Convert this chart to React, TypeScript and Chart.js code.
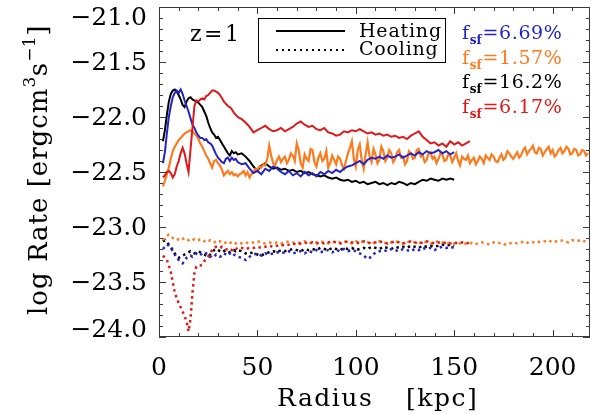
import React, { useEffect, useRef } from "react";
import { Chart, registerables } from "chart.js";

Chart.register(...registerables);

// ---------- data ----------
const radius = [
  2, 3, 4, 5, 6, 7, 8, 9, 10, 11, 12, 13, 14, 15, 16, 17, 18, 19, 20, 21,
  22, 23, 24, 25, 26, 27, 28, 29, 30, 31, 32, 33, 34, 35, 36, 37, 38, 39, 40,
  42, 44, 46, 48, 50, 52, 54, 56, 58, 60, 62, 64, 66, 68, 70, 72, 74, 76, 78, 80,
  82, 84, 86, 88, 90, 92, 94, 96, 98, 100, 102, 104, 106, 108, 110, 112, 114, 116, 118, 120,
  122, 124, 126, 128, 130, 132, 134, 136, 138, 140, 142, 144, 146, 148, 150, 152, 154, 156, 158,
];

const orangeRadius = [
  2, 3, 4, 5, 6, 7, 8, 9, 10, 11, 12, 13, 14, 15, 16, 17, 18, 19, 20, 21,
  22, 23, 24, 25, 26, 27, 28, 29, 30, 31, 32, 33, 34, 35, 36, 37, 38, 39, 40,
  41, 42, 43, 44, 45, 46, 47, 48, 49, 50, 51, 52, 53, 54, 55, 56, 57, 58, 59, 60,
  61, 62, 63, 64, 65, 66, 67, 68, 69, 70, 71, 72, 73, 74, 75, 76, 77, 78, 79, 80,
  81, 82, 83, 84, 85, 86, 87, 88, 89, 90, 91, 92, 93, 94, 95, 96, 97, 98, 99, 100,
  101, 102, 103, 104, 105, 106, 107, 108, 109, 110, 111, 112, 113, 114, 115, 116, 117, 118, 119, 120,
  121, 122, 123, 124, 125, 126, 127, 128, 129, 130, 131, 132, 133, 134, 135, 136, 137, 138, 139, 140,
  141, 142, 143, 144, 145, 146, 147, 148, 149, 150, 151, 152, 153, 154, 155, 156, 157, 158, 159, 160,
  161, 162, 163, 164, 165, 166, 167, 168, 169, 170, 171, 172, 173, 174, 175, 176, 177, 178, 179, 180,
  181, 182, 183, 184, 185, 186, 187, 188, 189, 190, 191, 192, 193, 194, 195, 196, 197, 198, 199, 200,
  201, 202, 203, 204, 205, 206, 207, 208, 209, 210, 211, 212, 213, 214, 215, 216, 217, 218,
];

const orangeCoolRadius = [
  2, 3, 4, 5, 6, 7, 8, 9, 10, 11, 12, 13, 14, 15, 16, 17, 18, 19, 20, 21,
  22, 23, 24, 25, 26, 27, 28, 29, 30, 31, 32, 33, 34, 35, 36, 37, 38, 39, 40,
  42, 44, 46, 48, 50, 52, 54, 56, 58, 60, 62, 64, 66, 68, 70, 72, 74, 76, 78, 80,
  82, 84, 86, 88, 90, 92, 94, 96, 98, 100, 102, 104, 106, 108, 110, 112, 114, 116, 118, 120,
  122, 124, 126, 128, 130, 132, 134, 136, 138, 140, 142, 144, 146, 148, 150, 152, 154, 156, 158, 160,
  162, 164, 166, 168, 170, 172, 174, 176, 178, 180, 182, 184, 186, 188, 190, 192, 194, 196, 198, 200,
  202, 204, 206, 208, 210, 212, 214, 216, 218,
];

const blueHeating = [
  -22.42, -22.32, -22.15, -22.0, -21.9, -21.82, -21.78, -21.76, -21.78, -21.75,
  -21.79, -21.85, -21.9, -21.95, -22.01, -22.07, -22.1, -22.14, -22.17, -22.19,
  -22.19, -22.21, -22.2, -22.23, -22.24, -22.26, -22.3, -22.34, -22.37, -22.39,
  -22.41, -22.42, -22.38, -22.37, -22.4, -22.37, -22.39, -22.38, -22.41,
  -22.43, -22.42, -22.47, -22.51, -22.49, -22.52, -22.47, -22.49, -22.45, -22.47,
  -22.5, -22.52, -22.49, -22.53, -22.51, -22.54, -22.5, -22.53, -22.51, -22.54,
  -22.5, -22.52, -22.49, -22.51, -22.48, -22.5, -22.47, -22.45, -22.44, -22.42,
  -22.4, -22.43, -22.39, -22.37, -22.38, -22.36, -22.38, -22.35, -22.37, -22.36,
  -22.34, -22.37, -22.35, -22.33, -22.35, -22.32, -22.34, -22.31, -22.33, -22.32,
  -22.3, -22.33, -22.31, -22.34, -22.32,
];

const blackHeating = [
  -22.22, -22.12, -21.98, -21.86, -21.79, -21.76, -21.75, -21.77, -21.8, -21.84,
  -21.89, -21.91, -21.86, -21.83, -21.82, -21.84, -21.85, -21.86, -21.87, -21.89,
  -21.91, -21.95, -21.99, -22.05, -22.1, -22.14, -22.16, -22.19, -22.18, -22.21,
  -22.24, -22.27, -22.3, -22.33, -22.35, -22.31, -22.33, -22.32, -22.34,
  -22.33, -22.36, -22.4, -22.45, -22.49, -22.44, -22.42, -22.45, -22.47, -22.46,
  -22.48, -22.47, -22.49, -22.48, -22.5, -22.49, -22.51, -22.5, -22.52, -22.53,
  -22.54, -22.53, -22.55, -22.56, -22.55, -22.57, -22.58, -22.57, -22.59, -22.58,
  -22.6, -22.59, -22.61, -22.6, -22.59, -22.61, -22.6, -22.62, -22.6, -22.61,
  -22.59, -22.6, -22.62, -22.6, -22.61, -22.59, -22.57, -22.58, -22.56, -22.57,
  -22.58, -22.56, -22.57, -22.56, -22.57,
];

const redHeating = [
  -22.55, -22.53, -22.5, -22.49, -22.51, -22.55, -22.52, -22.45, -22.4, -22.33,
  -22.28, -22.33, -22.42, -22.5, -22.3, -22.1, -21.9, -21.85, -21.86, -21.84,
  -21.83, -21.84, -21.81, -21.8, -21.78, -21.76, -21.76, -21.77, -21.78, -21.8,
  -21.83, -21.86, -21.88, -21.9, -21.91, -21.93, -21.96, -21.98, -22.0,
  -22.02, -22.05, -22.09, -22.14, -22.12, -22.1, -22.08, -22.11, -22.13, -22.12,
  -22.1, -22.13, -22.11, -22.09, -22.06, -22.04, -22.07, -22.09, -22.08, -22.11,
  -22.12, -22.1, -22.14, -22.15, -22.17, -22.16, -22.13, -22.14, -22.12, -22.13,
  -22.11, -22.13, -22.15, -22.14, -22.16, -22.15, -22.17, -22.16, -22.18, -22.17,
  -22.19, -22.18, -22.2, -22.17, -22.15, -22.13, -22.18, -22.21, -22.24, -22.23,
  -22.26, -22.24, -22.27, -22.22, -22.25, -22.23, -22.26, -22.24, -22.22,
];

const orangeHeating = [
  -22.63, -22.58, -22.52, -22.46, -22.38, -22.31, -22.27, -22.24, -22.21, -22.19,
  -22.17, -22.15, -22.14, -22.13, -22.12, -22.13, -22.15, -22.17, -22.2, -22.24,
  -22.27, -22.31, -22.35, -22.38, -22.42, -22.46, -22.4, -22.39, -22.42, -22.44,
  -22.48, -22.53, -22.51, -22.49, -22.52, -22.5, -22.53, -22.52, -22.54,
  -22.52, -22.51, -22.49, -22.53, -22.5, -22.55, -22.52, -22.5, -22.47, -22.48,
  -22.45, -22.46, -22.43, -22.44, -22.38, -22.26, -22.35, -22.42, -22.44, -22.39,
  -22.36, -22.41, -22.38, -22.36, -22.42, -22.39, -22.33, -22.35, -22.4, -22.24,
  -22.3, -22.42, -22.46, -22.34, -22.38, -22.4, -22.29, -22.3, -22.41, -22.45,
  -22.37, -22.33, -22.4, -22.38, -22.31, -22.46, -22.42, -22.35, -22.39, -22.43,
  -22.36, -22.38, -22.44, -22.47, -22.4, -22.33, -22.28, -22.22, -22.38, -22.45,
  -22.3, -22.25, -22.39, -22.47, -22.34, -22.23, -22.36, -22.41, -22.29, -22.34,
  -22.42, -22.39, -22.27, -22.31, -22.4, -22.37, -22.3, -22.33, -22.41, -22.38,
  -22.32, -22.3, -22.37, -22.36, -22.43, -22.4, -22.31, -22.33, -22.38, -22.37,
  -22.3, -22.29, -22.36, -22.35, -22.41, -22.39, -22.33, -22.32, -22.38, -22.36,
  -22.42, -22.38, -22.33, -22.34, -22.4, -22.39, -22.34, -22.35, -22.41, -22.37,
  -22.33, -22.4, -22.44, -22.36, -22.38, -22.39, -22.35, -22.42, -22.39, -22.37,
  -22.43, -22.4, -22.36, -22.38, -22.42, -22.35, -22.37, -22.39, -22.34, -22.36,
  -22.4, -22.41, -22.37, -22.34, -22.39, -22.37, -22.31, -22.33, -22.36, -22.38,
  -22.35, -22.32, -22.37, -22.35, -22.3, -22.28, -22.34, -22.31, -22.29, -22.26,
  -22.32, -22.33, -22.28, -22.29, -22.35, -22.32, -22.29, -22.27, -22.33, -22.3,
  -22.36, -22.34, -22.3, -22.28, -22.33, -22.31, -22.27, -22.29, -22.34, -22.33,
  -22.29, -22.3, -22.35, -22.34, -22.3, -22.31, -22.35, -22.33,
];

const blueCooling = [
  -23.2, -23.18, -23.16, -23.17, -23.19, -23.22, -23.25, -23.28, -23.3, -23.32,
  -23.33, -23.31, -23.28, -23.27, -23.26, -23.27, -23.26, -23.24, -23.23, -23.24,
  -23.26, -23.25, -23.24, -23.26, -23.27, -23.26, -23.27, -23.25, -23.26, -23.27,
  -23.26, -23.24, -23.25, -23.26, -23.24, -23.23, -23.25, -23.26, -23.27,
  -23.28, -23.3, -23.27, -23.25, -23.24, -23.26, -23.24, -23.25, -23.24, -23.23,
  -23.24, -23.23, -23.22, -23.24, -23.23, -23.22, -23.24, -23.22, -23.23, -23.21,
  -23.23, -23.22, -23.21, -23.23, -23.21, -23.22, -23.2, -23.22, -23.21, -23.22,
  -23.24, -23.26, -23.29, -23.27, -23.23, -23.22, -23.21, -23.22, -23.2, -23.21,
  -23.22, -23.2, -23.21, -23.22, -23.2, -23.21, -23.19, -23.2, -23.19, -23.21,
  -23.19, -23.18, -23.19, -23.18, -23.19,
];

const blackCooling = [
  -23.13, -23.12, -23.14, -23.16, -23.18, -23.21, -23.24, -23.27, -23.28, -23.27,
  -23.26, -23.25, -23.24, -23.23, -23.22, -23.23, -23.24, -23.23, -23.22, -23.23,
  -23.24, -23.25, -23.26, -23.27, -23.25, -23.23, -23.21, -23.2, -23.21, -23.22,
  -23.23, -23.22, -23.21, -23.22, -23.23, -23.22, -23.21, -23.22, -23.21,
  -23.22, -23.24, -23.23, -23.24, -23.25, -23.26, -23.24, -23.23, -23.22, -23.23,
  -23.21, -23.22, -23.21, -23.2, -23.21, -23.22, -23.2, -23.21, -23.2, -23.21,
  -23.19, -23.2, -23.21, -23.19, -23.2, -23.21, -23.19, -23.2, -23.19, -23.21,
  -23.2, -23.19, -23.2, -23.18, -23.19, -23.2, -23.18, -23.19, -23.2, -23.18,
  -23.19, -23.18, -23.19, -23.17, -23.18, -23.19, -23.17, -23.18, -23.17, -23.18,
  -23.17, -23.16, -23.17, -23.16, -23.17,
];

const redCooling = [
  -23.26, -23.28, -23.3, -23.35, -23.41, -23.5, -23.59, -23.65, -23.69, -23.73,
  -23.77, -23.81, -23.86, -23.95, -23.84, -23.6, -23.42, -23.36, -23.35, -23.35,
  -23.34, -23.31, -23.29, -23.27, -23.24, -23.21, -23.19, -23.18, -23.18, -23.19,
  -23.18, -23.19, -23.2, -23.21, -23.2, -23.21, -23.19, -23.2, -23.19,
  -23.19, -23.2, -23.19, -23.19, -23.18, -23.19, -23.18, -23.17, -23.18, -23.17,
  -23.16, -23.17, -23.16, -23.15, -23.16, -23.15, -23.14, -23.15, -23.14, -23.15,
  -23.14, -23.15, -23.14, -23.13, -23.14, -23.15, -23.14, -23.13, -23.14, -23.15,
  -23.14, -23.13, -23.14, -23.15, -23.14, -23.13, -23.14, -23.15, -23.14, -23.13,
  -23.14, -23.15, -23.14, -23.13, -23.14, -23.15, -23.14, -23.13, -23.14, -23.15,
  -23.14, -23.15, -23.14, -23.15, -23.14, -23.15, -23.14, -23.15, -23.14,
];

const orangeCooling = [
  -23.12, -23.1, -23.08, -23.07, -23.08, -23.1, -23.11, -23.12, -23.11, -23.12,
  -23.11, -23.1, -23.11, -23.12, -23.11, -23.12, -23.11, -23.12, -23.12, -23.11,
  -23.12, -23.13, -23.12, -23.13, -23.12, -23.13, -23.14, -23.13, -23.14, -23.13,
  -23.14, -23.15, -23.14, -23.13, -23.14, -23.15, -23.14, -23.15, -23.14,
  -23.15, -23.14, -23.15, -23.14, -23.13, -23.14, -23.15, -23.14, -23.15, -23.14,
  -23.15, -23.14, -23.13, -23.14, -23.15, -23.14, -23.13, -23.14, -23.15, -23.14,
  -23.13, -23.14, -23.15, -23.14, -23.13, -23.14, -23.13, -23.14, -23.15, -23.13,
  -23.14, -23.13, -23.14, -23.15, -23.14, -23.13, -23.14, -23.15, -23.14, -23.13,
  -23.14, -23.15, -23.14, -23.13, -23.14, -23.15, -23.13, -23.14, -23.15, -23.14,
  -23.13, -23.14, -23.15, -23.14, -23.15, -23.14, -23.16, -23.15, -23.14, -23.16,
  -23.15, -23.14, -23.15, -23.16, -23.14, -23.15, -23.14, -23.16, -23.15, -23.14,
  -23.15, -23.14, -23.13, -23.15, -23.14, -23.13, -23.14, -23.13, -23.12, -23.14,
  -23.13, -23.12, -23.13, -23.14, -23.12, -23.13, -23.12, -23.13, -23.12,
];

const xTickValues = [0, 50, 100, 150, 200];
const xTickLabels = ["0", "50", "100", "150", "200"];
const yTickValues = [-21, -21.5, -22, -22.5, -23, -23.5, -24];
const yTickLabels = ["\u221221.0", "\u221221.5", "\u221222.0", "\u221222.5", "\u221223.0", "\u221223.5", "\u221224.0"];
const fsfValues = ["6.69%", "1.57%", "16.2%", "6.17%"];
const legendLabels = ["Heating", "Cooling"];
const redshiftLabel = "z=1";
const xTitleParts = ["Radius", "[kpc]"];

const BLUE = "#2424c4";
const ORANGE = "#ff7a1c";
const BLACK = "#000000";
const RED = "#e01818";
const fsfColors = [BLUE, ORANGE, BLACK, RED];

const X_MIN = 0;
const X_MAX = 219;
const Y_MIN = -24;
const Y_MAX = -21;
const SERIF = '"DejaVu Serif", "Liberation Serif", serif';

function pts(xs: number[], values: number[]) {
  return values.map((y, i) => ({ x: xs[i], y }));
}

function heat(label: string, xs: number[], values: number[], color: string, w = 2) {
  return {
    label,
    data: pts(xs, values),
    borderColor: color,
    backgroundColor: color,
    borderWidth: w,
    pointRadius: 0,
    tension: 0,
    fill: false,
  };
}

function cool(label: string, xs: number[], values: number[], color: string) {
  return {
    label,
    data: pts(xs, values),
    borderColor: color,
    backgroundColor: color,
    borderWidth: 2.5,
    borderDash: [2.5, 3.5],
    pointRadius: 0,
    tension: 0,
    fill: false,
  };
}

function setSpacing(ctx: any, px: number) {
  if ("letterSpacing" in ctx) ctx.letterSpacing = px + "px";
}

const idlPlugin = {
  id: "idlAxes",
  afterDatasetsDraw(chart: any) {
    const { ctx, chartArea: a, scales } = chart;
    const xs = scales.x;
    const ys = scales.y;
    ctx.save();
    ctx.strokeStyle = "#3a3a3a";
    ctx.lineWidth = 1;
    ctx.strokeRect(a.left + 0.5, a.top + 0.5, a.right - a.left - 1, a.bottom - a.top - 1);
    ctx.beginPath();
    for (let v = 0; v <= X_MAX; v += 10) {
      const px = Math.round(xs.getPixelForValue(v)) + 0.5;
      const len = v % 50 === 0 ? 7 : 4;
      ctx.moveTo(px, a.bottom);
      ctx.lineTo(px, a.bottom - len);
      ctx.moveTo(px, a.top);
      ctx.lineTo(px, a.top + len);
    }
    for (let k = 0; k <= 30; k++) {
      const v = Y_MIN + k * 0.1;
      const py = Math.round(ys.getPixelForValue(v)) + 0.5;
      const len = k % 5 === 0 ? 7 : 4;
      ctx.moveTo(a.left, py);
      ctx.lineTo(a.left + len, py);
      ctx.moveTo(a.right, py);
      ctx.lineTo(a.right - len, py);
    }
    ctx.stroke();
    ctx.restore();
  },
  afterDraw(chart: any) {
    const { ctx, chartArea: a, scales } = chart;
    const xs = scales.x;
    const ys = scales.y;
    ctx.save();
    ctx.fillStyle = "#000";
    ctx.textBaseline = "alphabetic";

    // tick labels
    ctx.font = `25px ${SERIF}`;
    setSpacing(ctx, 0);
    ctx.textAlign = "center";
    xTickValues.forEach((v, i) => {
      ctx.fillText(xTickLabels[i], xs.getPixelForValue(v), a.bottom + 38);
    });
    ctx.textAlign = "right";
    yTickValues.forEach((v, i) => {
      const p = ys.getPixelForValue(v);
      const base = Math.min(Math.max(p + 8, a.top + 18), a.bottom);
      ctx.fillText(yTickLabels[i], a.left - 12, base);
    });

    // x title
    ctx.textAlign = "left";
    ctx.font = `25px ${SERIF}`;
    setSpacing(ctx, 1.5);
    ctx.fillText(xTitleParts[0], 277, 406);
    ctx.fillText(xTitleParts[1], 406, 406);

    // y title (rotated)
    ctx.save();
    ctx.translate(47, 315);
    ctx.rotate(-Math.PI / 2);
    const big = `26px ${SERIF}`;
    const small = `17px ${SERIF}`;
    const parts: [string, string, number, number][] = [
      ["log Rate ", big, 0, 1.0],
      ["[ergcm", big, 0, 1.0],
      ["3", small, -12, 0.5],
      ["s", big, 0, 1.0],
      ["\u22121", small, -12, 0.5],
      ["]", big, 0, 1.0],
    ];
    let x = 0;
    for (const [t, f, dy, sp] of parts) {
      ctx.font = f;
      setSpacing(ctx, sp);
      ctx.fillText(t, x, dy);
      x += ctx.measureText(t).width;
    }
    ctx.restore();

    // z=1
    ctx.font = `22px ${SERIF}`;
    setSpacing(ctx, 2.5);
    ctx.textAlign = "left";
    ctx.fillText(redshiftLabel, 190, 41);

    // legend box
    setSpacing(ctx, 0);
    ctx.strokeStyle = "#000";
    ctx.lineWidth = 1;
    ctx.strokeRect(258.5, 18.5, 187, 44);
    ctx.lineWidth = 2;
    ctx.beginPath();
    ctx.moveTo(276, 31);
    ctx.lineTo(345, 31);
    ctx.stroke();
    ctx.setLineDash([2, 4]);
    ctx.beginPath();
    ctx.moveTo(276, 50);
    ctx.lineTo(345, 50);
    ctx.stroke();
    ctx.setLineDash([]);
    ctx.font = `19px ${SERIF}`;
    setSpacing(ctx, 0.8);
    ctx.fillText(legendLabels[0], 359, 37);
    ctx.fillText(legendLabels[1], 359, 55);

    // f_sf annotations
    fsfValues.forEach((val, i) => {
      const base = 39 + i * 24.5;
      let px = 462;
      ctx.fillStyle = fsfColors[i];
      ctx.font = `19px ${SERIF}`;
      setSpacing(ctx, 0.6);
      ctx.fillText("f", px, base);
      px += ctx.measureText("f").width;
      ctx.font = `bold 12px ${SERIF}`;
      setSpacing(ctx, 0);
      ctx.fillText("sf", px, base + 5);
      px += ctx.measureText("sf").width + 1;
      ctx.font = `19px ${SERIF}`;
      setSpacing(ctx, 0.6);
      ctx.fillText("=" + val, px, base);
    });

    ctx.restore();
  },
};

export default function App() {
  const ref = useRef<HTMLCanvasElement | null>(null);
  useEffect(() => {
    if (!ref.current) return;
    const chart = new Chart(ref.current, {
      type: "line",
      data: {
        datasets: [
          heat("Heating red", radius, redHeating, RED),
          heat("Heating blue", radius, blueHeating, BLUE),
          heat("Heating orange", orangeRadius, orangeHeating, ORANGE, 2.2),
          heat("Heating black", radius, blackHeating, BLACK),
          cool("Cooling red", radius, redCooling, RED),
          cool("Cooling orange", orangeCoolRadius, orangeCooling, ORANGE),
          cool("Cooling blue", radius, blueCooling, BLUE),
          cool("Cooling black", radius, blackCooling, BLACK),
        ] as any,
      },
      options: {
        responsive: false,
        animation: false,
        devicePixelRatio: 1,
        layout: { padding: { top: 7, right: 1, left: 0, bottom: 0 } },
        plugins: { legend: { display: false }, tooltip: { enabled: false } },
        scales: {
          x: {
            type: "linear",
            min: X_MIN,
            max: X_MAX,
            ticks: { display: false },
            grid: { display: false },
            border: { display: false },
            afterFit: (s: any) => {
              s.height = 77;
            },
          },
          y: {
            type: "linear",
            min: Y_MIN,
            max: Y_MAX,
            ticks: { display: false },
            grid: { display: false },
            border: { display: false },
            afterFit: (s: any) => {
              s.width = 159;
            },
          },
        },
      } as any,
      plugins: [idlPlugin],
    });
    return () => chart.destroy();
  }, []);
  return (
    <div style={{ position: "absolute", left: 0, top: 0, width: 591, height: 414, background: "#fff" }}>
      <canvas ref={ref} width={591} height={414} style={{ display: "block" }} />
    </div>
  );
}
